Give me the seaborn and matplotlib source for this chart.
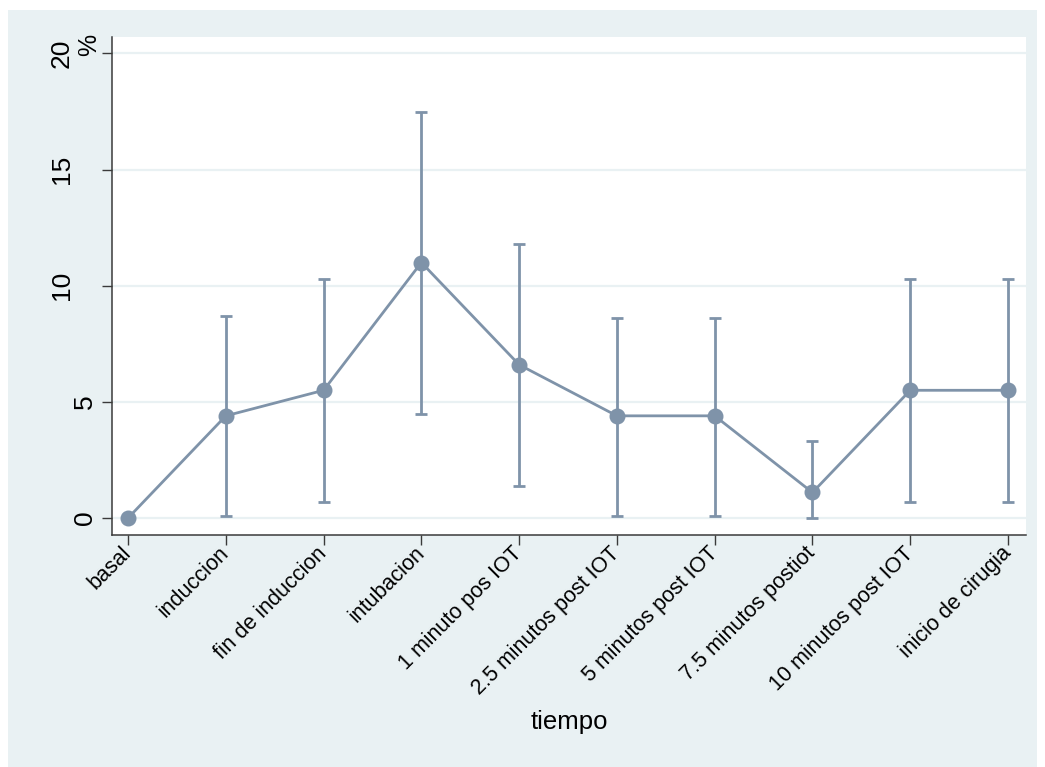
import matplotlib
matplotlib.use("Agg")
import matplotlib.pyplot as plt
import matplotlib.transforms as mtransforms
from matplotlib.patches import Rectangle
import numpy as np
import pandas as pd
import seaborn as sns

# Porcentaje por momento del procedimiento, con intervalo de confianza
categorias = ["basal", "induccion", "fin de induccion", "intubacion",
              "1 minuto pos IOT", "2.5 minutos post IOT", "5 minutos post IOT",
              "7.5 minutos postiot", "10 minutos post IOT", "inicio de cirugia"]
porcentaje = [0.0, 4.4, 5.5, 11.0, 6.6, 4.4, 4.4, 1.1, 5.5, 5.5]
ic_inferior = [np.nan, 0.1, 0.7, 4.5, 1.4, 0.1, 0.1, 0.0, 0.7, 0.7]
ic_superior = [np.nan, 8.7, 10.3, 17.5, 11.8, 8.6, 8.6, 3.3, 10.3, 10.3]
y_ticks = [0, 5, 10, 15, 20]

sns.set_theme(style="white")
plt.rcParams["font.family"] = ["Liberation Sans", "DejaVu Sans"]

COLOR = "#7f93a9"
FONDO = "#e9f1f3"
W, H = 1045, 767

df = pd.DataFrame({"tiempo": categorias, "pct": porcentaje})

fig = plt.figure(figsize=(W / 100, H / 100), dpi=100, facecolor="white")
fig.patches.append(Rectangle((8 / W, 0), 1029 / W, (H - 10) / H,
                             transform=fig.transFigure, facecolor=FONDO,
                             edgecolor="none", zorder=-10))

ax = fig.add_axes([112 / W, 1 - 535 / H, (1026 - 112) / W, (535 - 37) / H])
ax.set_facecolor("white")

# intervalos de confianza
pos = np.arange(len(categorias))
lo = np.array(ic_inferior, dtype=float)
hi = np.array(ic_superior, dtype=float)
val = np.array(porcentaje, dtype=float)
m = ~np.isnan(lo)
ax.errorbar(pos[m], val[m], yerr=[val[m] - lo[m], hi[m] - val[m]], fmt="none",
            ecolor=COLOR, elinewidth=2.0, capsize=4.5, capthick=2.0, zorder=2)

sns.pointplot(data=df, x="tiempo", y="pct", order=categorias, color=COLOR,
              errorbar=None, markers="o", markersize=10, linewidth=2.0,
              ax=ax, zorder=3)

ax.set_xlim(-0.164, 9.184)
ax.set_ylim(-0.73, 20.71)

# rejilla horizontal
ax.set_yticks(y_ticks)
ax.yaxis.grid(True, color=FONDO, linewidth=1.6)
ax.xaxis.grid(False)
ax.set_axisbelow(True)

for s in ["top", "right"]:
    ax.spines[s].set_visible(False)
for s in ["left", "bottom"]:
    ax.spines[s].set_color("#3a3a3a")
    ax.spines[s].set_linewidth(1.1)

ax.tick_params(axis="both", which="both", direction="out", length=7,
               width=1.0, color="#3a3a3a", left=True, bottom=True)
ax.tick_params(axis="y", labelleft=False)

ax.set_xticks(pos)
ax.set_xticklabels(categorias, rotation=45, ha="right", va="center",
                   rotation_mode="anchor", fontsize=15.5, color="black")
ax.tick_params(axis="x", pad=4)

# etiquetas verticales del eje y
tr = mtransforms.blended_transform_factory(fig.transFigure, ax.transData)
for t in y_ticks:
    xr = 74 if t >= 10 else 97
    fig.text(xr / W, t, str(t), transform=tr, rotation=90, ha="right",
             va="center", fontsize=19, color="black")

fig.text(89 / W, 1 - 45 / H, "%", rotation=90, ha="center", va="center",
         fontsize=18, color="black")

ax.set_xlabel("")
ax.set_ylabel("")
fig.text(569 / W, 1 - 722 / H, "tiempo", ha="center", va="center",
         fontsize=18.5, color="black")

fig.savefig("out.png", dpi=100, facecolor="white")
